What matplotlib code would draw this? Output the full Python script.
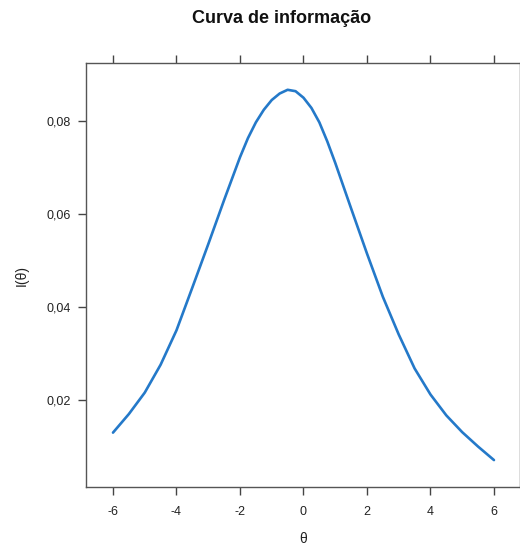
import matplotlib
matplotlib.use("Agg")
import matplotlib.pyplot as plt
from matplotlib.ticker import FuncFormatter

theta = [-6.0, -5.5, -5.0, -4.5, -4.0, -3.5, -3.0, -2.5, -2.0, -1.75, -1.5, -1.25,
         -1.0, -0.75, -0.5, -0.25, 0.0, 0.25, 0.5, 0.75, 1.0, 1.5, 2.0, 2.5, 3.0,
         3.5, 4.0, 4.5, 5.0, 5.5, 6.0]
info = [0.0130, 0.0170, 0.0216, 0.0276, 0.0350, 0.0442, 0.0535, 0.0630, 0.0722,
        0.0763, 0.0797, 0.0824, 0.0845, 0.0859, 0.0867, 0.0864, 0.0850, 0.0828,
        0.0797, 0.0756, 0.0710, 0.0612, 0.0515, 0.0422, 0.0341, 0.0268, 0.0212,
        0.0167, 0.0131, 0.0100, 0.0071]
xticks = [-6, -4, -2, 0, 2, 4, 6]
yticks = [0.02, 0.04, 0.06, 0.08]
title = "Curva de informação"
xlabel = "θ"
ylabel = "I(θ)"

plt.rcParams['font.family'] = ['Liberation Sans', 'DejaVu Sans']

fig = plt.figure(figsize=(5.2, 5.45), dpi=100)
ax = fig.add_axes([0.1654, 0.1064, 0.8346, 0.7780])

ax.plot(theta, info, color="#2479c9", lw=1.9, solid_capstyle="round",
        solid_joinstyle="round")

ax.set_xlim(-6.85, 6.82)
ax.set_ylim(0.00131, 0.09246)
ax.set_xticks(xticks)
ax.set_yticks(yticks)
ax.yaxis.set_major_formatter(FuncFormatter(lambda v, p: f"{v:.2f}".replace(".", ",")))
ax.xaxis.set_major_formatter(FuncFormatter(lambda v, p: f"{int(round(v))}"))

ax.tick_params(axis="both", direction="out", length=6, width=1, color="#444444",
               labelsize=9, labelcolor="#222222")
ax.tick_params(axis="x", pad=8)
ax.tick_params(axis="y", pad=5)
ax.tick_params(axis="x", top=True, labeltop=False)
ax.tick_params(axis="y", right=True, labelright=False)
for s in ax.spines.values():
    s.set_color("#555555")
    s.set_linewidth(1.0)

ax.set_xlabel(xlabel, fontsize=10, color="#222222", labelpad=10)
ax.set_ylabel(ylabel, fontsize=10, color="#222222", labelpad=13)
fig.text(0.541, 0.966, title, ha="center", va="center", fontsize=13,
         fontweight="bold", color="#111111")

fig.savefig("out.png", dpi=100)
